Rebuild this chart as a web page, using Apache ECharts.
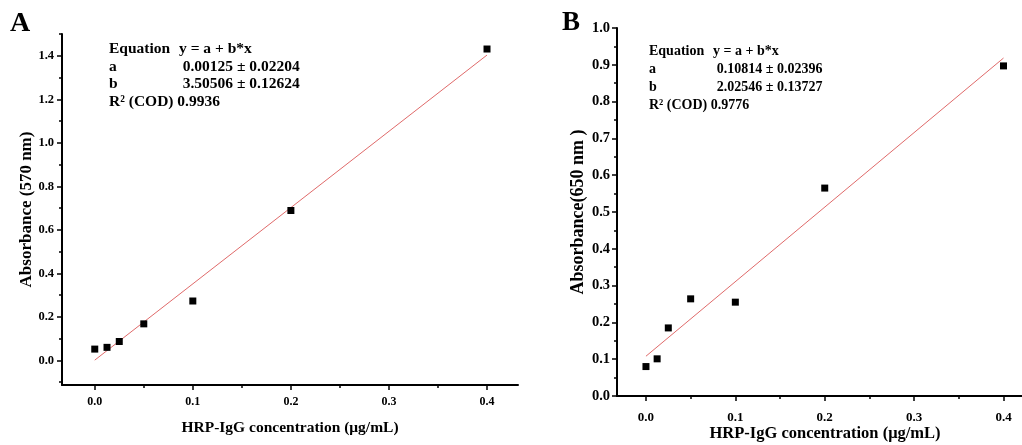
<!DOCTYPE html>
<html>
<head>
<meta charset="utf-8">
<script src="https://cdn.jsdelivr.net/npm/echarts@6/dist/echarts.min.js"></script>
<style>
  html, body { margin: 0; padding: 0; background: #fff; }
  #chart { width: 1022px; height: 445px; }
</style>
</head>
<body>
<div id="chart"></div>
<script>
// HRP-IgG concentrations (µg/mL), shared by both calibration panels
const concentration = [0, 0.0125, 0.025, 0.05, 0.1, 0.2, 0.4];
// Panel A: absorbance at 570 nm
const absorbance570 = [0.052, 0.060, 0.087, 0.168, 0.273, 0.689, 1.431];
// Panel B: absorbance at 650 nm
const absorbance650 = [0.080, 0.101, 0.185, 0.264, 0.255, 0.565, 0.897];
// Linear fits y = a + b*x  ([a, b])
const fit570 = [0.00125, 3.50506];
const fit650 = [0.10814, 2.02546];

// Tick values
const xMajorTicks = [0, 0.1, 0.2, 0.3, 0.4];
const xMinorTicks = [0.05, 0.15, 0.25, 0.35];
const yMajorTicksA = [0, 0.2, 0.4, 0.6, 0.8, 1.0, 1.2, 1.4];
const yMinorTicksA = [-0.1, 0.1, 0.3, 0.5, 0.7, 0.9, 1.1, 1.3, 1.5];
const yMajorTicksB = [0, 0.1, 0.2, 0.3, 0.4, 0.5, 0.6, 0.7, 0.8, 0.9, 1.0];
const yMinorTicksB = [0.05, 0.15, 0.25, 0.35, 0.45, 0.55, 0.65, 0.75, 0.85, 0.95];

// Fit report text
const fitLabels = ['Equation', 'a', 'b'];
const fitValuesA = ['y = a + b*x', '0.00125 \u00b1 0.02204', '3.50506 \u00b1 0.12624'];
const fitValuesB = ['y = a + b*x', '0.10814 \u00b1 0.02396', '2.02546 \u00b1 0.13727'];
const codA = 'R\u00b2 (COD) 0.9936';
const codB = 'R\u00b2 (COD) 0.9776';

const FONT = '"Liberation Serif", "Times New Roman", serif';

function pairs(xs, ys) { return xs.map((x, i) => [x, ys[i]]); }
function fitLine(fit, xs) {
  const x0 = xs[0], x1 = xs[xs.length - 1];
  return [[x0, fit[0] + fit[1] * x0], [x1, fit[0] + fit[1] * x1]];
}

function axisPair(kind, gridIndex, o) {
  const pos = kind === 'x' ? 'bottom' : 'left';
  const main = {
    type: 'value', gridIndex, min: o.min, max: o.max, position: pos, offset: 0,
    axisLine: { show: true, onZero: false, lineStyle: { color: '#000', width: 2 } },
    axisTick: { show: true, inside: false, length: 5, customValues: o.major,
                lineStyle: { color: '#000', width: 1.5 } },
    axisLabel: { show: true, customValues: o.major, formatter: v => v.toFixed(1),
                 margin: o.margin, color: '#000', fontFamily: FONT, fontWeight: 'bold',
                 fontSize: o.fontSize },
    splitLine: { show: false },
    name: o.name, nameLocation: 'middle', nameGap: o.nameGap, nameMoveOverlap: false,
    nameTextStyle: { color: '#000', fontFamily: FONT, fontWeight: 'bold', fontSize: o.nameSize }
  };
  const minor = {
    type: 'value', gridIndex, min: o.min, max: o.max, position: pos, offset: 0,
    axisLine: { show: false, onZero: false },
    axisTick: { show: true, inside: false, length: 3, customValues: o.minor,
                lineStyle: { color: '#000', width: 1.5 } },
    axisLabel: { show: false },
    splitLine: { show: false }
  };
  return [main, minor];
}

function textBlock(left, top, rowH, valueX, labels, values, cod, size) {
  const font = `bold ${size}px ${FONT}`;
  const els = [];
  labels.forEach((t, i) => {
    els.push({ type: 'text', x: left, y: top + i * rowH,
      style: { text: t, font, fill: '#000', verticalAlign: 'middle' } });
    els.push({ type: 'text', x: valueX[i], y: top + i * rowH,
      style: { text: values[i], font, fill: '#000', verticalAlign: 'middle' } });
  });
  els.push({ type: 'text', x: left, y: top + labels.length * rowH,
    style: { text: cod, font, fill: '#000', verticalAlign: 'middle' } });
  return els;
}

const xName = 'HRP-IgG concentration (\u03bcg/mL)';

const xA = axisPair('x', 0, { min: -0.0334, max: 0.4316, major: xMajorTicks, minor: xMinorTicks,
  margin: 11, fontSize: 12, name: xName, nameGap: 35, nameSize: 15.5 });
const yA = axisPair('y', 0, { min: -0.113, max: 1.5, major: yMajorTicksA, minor: yMinorTicksA,
  margin: 8, fontSize: 12.5, name: 'Absorbance (570 nm)', nameGap: 27, nameSize: 17 });
const xB = axisPair('x', 1, { min: -0.0324, max: 0.433, major: xMajorTicks, minor: xMinorTicks,
  margin: 15, fontSize: 13, name: xName, nameGap: 29, nameSize: 16.5 });
const yB = axisPair('y', 1, { min: 0, max: 1.0, major: yMajorTicksB, minor: yMinorTicksB,
  margin: 7, fontSize: 14.5, name: 'Absorbance(650 nm )', nameGap: 30, nameSize: 18 });

const chart = echarts.init(document.getElementById('chart'), null, { renderer: 'canvas' });
chart.setOption({
  backgroundColor: '#fff',
  animation: false,
  grid: [
    { left: 62, top: 34, right: 504, bottom: 60, containLabel: false, outerBoundsMode: 'none' },
    { left: 617, top: 28, right: -11, bottom: 49, containLabel: false, outerBoundsMode: 'none' }
  ],
  xAxis: [xA[0], xA[1], xB[0], xB[1]],
  yAxis: [yA[0], yA[1], yB[0], yB[1]],
  series: [
    { type: 'line', xAxisIndex: 0, yAxisIndex: 0, data: fitLine(fit570, concentration),
      symbol: 'none', lineStyle: { color: '#e06a6a', width: 1 }, z: 2 },
    { type: 'scatter', xAxisIndex: 0, yAxisIndex: 0, data: pairs(concentration, absorbance570),
      symbol: 'rect', symbolSize: 7, itemStyle: { color: '#000', opacity: 1 }, z: 3 },
    { type: 'line', xAxisIndex: 2, yAxisIndex: 2, data: fitLine(fit650, concentration),
      symbol: 'none', lineStyle: { color: '#e06a6a', width: 1 }, z: 2 },
    { type: 'scatter', xAxisIndex: 2, yAxisIndex: 2, data: pairs(concentration, absorbance650),
      symbol: 'rect', symbolSize: 7, itemStyle: { color: '#000', opacity: 1 }, z: 3 }
  ],
  graphic: [
    { type: 'text', x: 10, y: 24, style: { text: 'A', font: `bold 28px ${FONT}`, fill: '#000', verticalAlign: 'middle' } },
    { type: 'text', x: 562, y: 23, style: { text: 'B', font: `bold 27px ${FONT}`, fill: '#000', verticalAlign: 'middle' } },
    ...textBlock(109, 49, 17.7, [179, 182.7, 182.7], fitLabels, fitValuesA, codA, 15.5),
    ...textBlock(649, 51, 18, [713, 716.7, 716.7], fitLabels, fitValuesB, codB, 14)
  ]
});
</script>
</body>
</html>
